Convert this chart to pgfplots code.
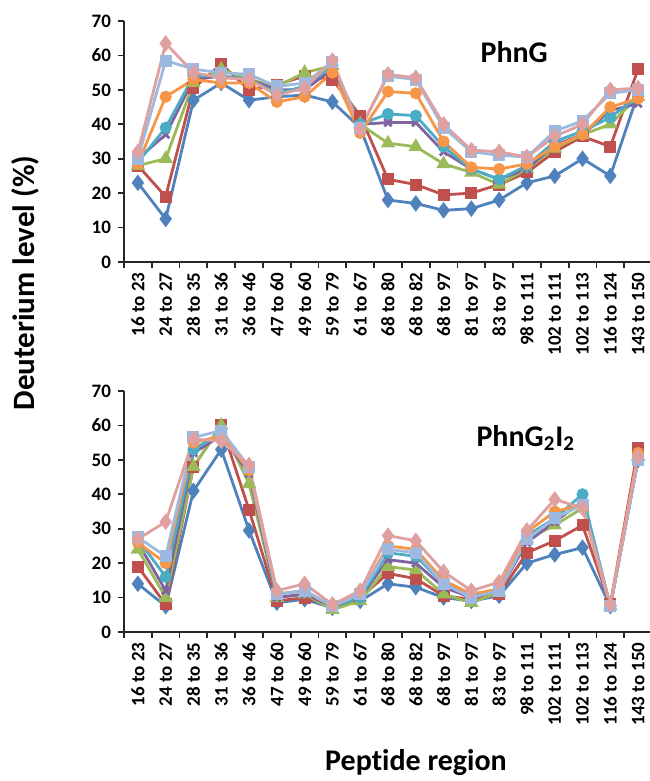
\documentclass[border=0pt]{standalone}
\usepackage{pgfplots}
\usepackage{pgfplotstable}
\pgfplotsset{compat=1.18}
\usepackage{fontspec}
\setmainfont{Carlito}[Ligatures=NoCommon]
\definecolor{c1}{HTML}{4F81BD}
\definecolor{c2}{HTML}{C0504D}
\definecolor{c3}{HTML}{9BBB59}
\definecolor{c4}{HTML}{8064A2}
\definecolor{c5}{HTML}{4BACC6}
\definecolor{c6}{HTML}{F79646}
\definecolor{c7}{HTML}{9DB9E0}
\definecolor{c8}{HTML}{E0A0A0}

\pgfplotstableread{
x s1 s2 s3 s4 s5 s6 s7 s8
0 23 28 28 30 29 28.5 30 32
1 12.5 19 30 37 39 48 58.5 63.5
2 47 50.5 52 53 54 53 56 55
3 52 57.5 56 54 54 52 55 53.5
4 47 50 53 53 53 52 54.5 53
5 48 51.5 51 50 49 46.5 51 48.5
6 48.5 54 55 50 51 48 52 50.5
7 46.5 53 57 56 57 55 58 58.5
8 39 42.5 40 40 40 37.5 39 38.5
9 18 24 34.5 40.5 43 49.5 54 54.5
10 17 22.5 33.5 40.5 42.5 49 53 53.5
11 15 19.5 28.5 32 33.5 35 39 40
12 15.5 20 26 27 27 27.5 32 32.5
13 18 22.5 22.5 24 24 27 31 32
14 23 26 27 27 28 28.5 30.5 30.5
15 25 32 33 34 35 33.5 38 36.5
16 30 36.5 37 37 38 37 41 40
17 25 33.5 40 44 42 45 49 50
18 49 56 48 46 48 47.5 50 50.5
}\toptable

\pgfplotstableread{
x s1 s2 s3 s4 s5 s6 s7 s8
0 14 19 24 26 27 26 27.5 27
1 7.5 8 10 12 16 20 22 32
2 41 48 48 52 53 55 56.5 56
3 53 60 60 57 58 57 58.5 55.5
4 29.5 35.5 43 46 47 47 48 48.5
5 8.5 9 10 10 11 11 11 12
6 9.5 10 11 11 12 12 12 14
7 7 7.5 6.5 7.5 7.5 7.5 7.5 8
8 9 10 9 10 10 11 11 12
9 14 17 19 21 23 25 24 28
10 13 15.5 18 20 22 24 23 26.5
11 10 10.5 11 13 14 15 14 17.5
12 9 9.5 8.5 10 11 11 10 12
13 10.5 11 11.5 12 12 12.5 12 14.5
14 20 23 27 26 28 29 27 29.5
15 22.5 26.5 31 32 33 35 33 38.5
16 24.5 31 36 38 40 37 37 36
17 7.5 8 7.5 7.5 7.5 7.5 7.5 8
18 50 53.5 51 51 50 52 50 51
}\bottable

\pgfplotsset{
  myaxis/.style={
    scale only axis, width=264pt, height=120.5pt,
    xmin=-0.5, xmax=18.5, ymin=0, ymax=70,
    ytick={0,10,...,70},
    xtick={0,...,18},
    xticklabels={16 to 23,24 to 27,28 to 35,31 to 36,36 to 46,47 to 60,49 to 60,59 to 79,61 to 67,68 to 80,68 to 82,68 to 97,81 to 97,83 to 97,98 to 111,102 to 111,102 to 113,116 to 124,143 to 150},
    minor xtick={-0.5,0.5,...,18.5},
    major x tick style={draw=none},
    tick align=outside,
    axis x line*=bottom, axis y line*=left,
    axis line style={-, line width=1.1pt, black!85},
    every tick/.style={line width=0.9pt, black!85},
    major tick length=3pt, minor tick length=3pt,
    xticklabel style={rotate=90, anchor=east, font=\bfseries\fontsize{9.5}{10}\selectfont, inner sep=2pt},
    yticklabel style={font=\bfseries\fontsize{9.5}{10}\selectfont},
    /pgf/number format/assume math mode=true,
    clip=false,
    every axis plot/.append style={line width=1.4pt, mark size=2.6pt, mark options={solid}},
  },
  p1/.style={c1, mark=diamond*, mark size=3pt},
  p2/.style={c2, mark=square*, mark size=2.3pt},
  p3/.style={c3, mark=triangle*, mark size=2.8pt},
  p4/.style={c4, mark=x, mark size=2.6pt},
  p5/.style={c5, mark=*, mark size=2.3pt},
  p6/.style={c6, mark=*, mark size=2.3pt},
  p7/.style={c7, mark=square*, mark size=2.3pt},
  p8/.style={c8, mark=diamond*, mark size=3pt},
}

\begin{document}
\begin{tikzpicture}
\begin{axis}[myaxis, at={(62pt,259.5pt)}, anchor=south west]
\addplot[p1] table[x=x,y=s1]{\toptable};
\addplot[p2] table[x=x,y=s2]{\toptable};
\addplot[p3] table[x=x,y=s3]{\toptable};
\addplot[p4] table[x=x,y=s4]{\toptable};
\addplot[p5] table[x=x,y=s5]{\toptable};
\addplot[p6] table[x=x,y=s6]{\toptable};
\addplot[p7] table[x=x,y=s7]{\toptable};
\addplot[p8] table[x=x,y=s8]{\toptable};
\node[font=\bfseries\fontsize{15}{16}\selectfont] at (rel axis cs:0.739,0.871) {PhnG};
\end{axis}
\begin{axis}[myaxis, at={(62pt,74.5pt)}, anchor=south west]
\addplot[p1] table[x=x,y=s1]{\bottable};
\addplot[p2] table[x=x,y=s2]{\bottable};
\addplot[p3] table[x=x,y=s3]{\bottable};
\addplot[p4] table[x=x,y=s4]{\bottable};
\addplot[p5] table[x=x,y=s5]{\bottable};
\addplot[p6] table[x=x,y=s6]{\bottable};
\addplot[p7] table[x=x,y=s7]{\bottable};
\addplot[p8] table[x=x,y=s8]{\bottable};
\node[font=\bfseries\fontsize{15}{16}\selectfont] at (rel axis cs:0.761,0.805) {PhnG\textsubscript{2}I\textsubscript{2}};
\end{axis}
\node[rotate=90, font=\bfseries\fontsize{15.5}{16}\selectfont] at (12.5pt,249pt) {Deuterium level (\%)};
\node[font=\bfseries\fontsize{15}{16}\selectfont] at (208pt,9pt) {Peptide region};
\pgfresetboundingbox
\path[use as bounding box] (0,0) rectangle (324.5pt,390.5pt);
\end{tikzpicture}
\end{document}
